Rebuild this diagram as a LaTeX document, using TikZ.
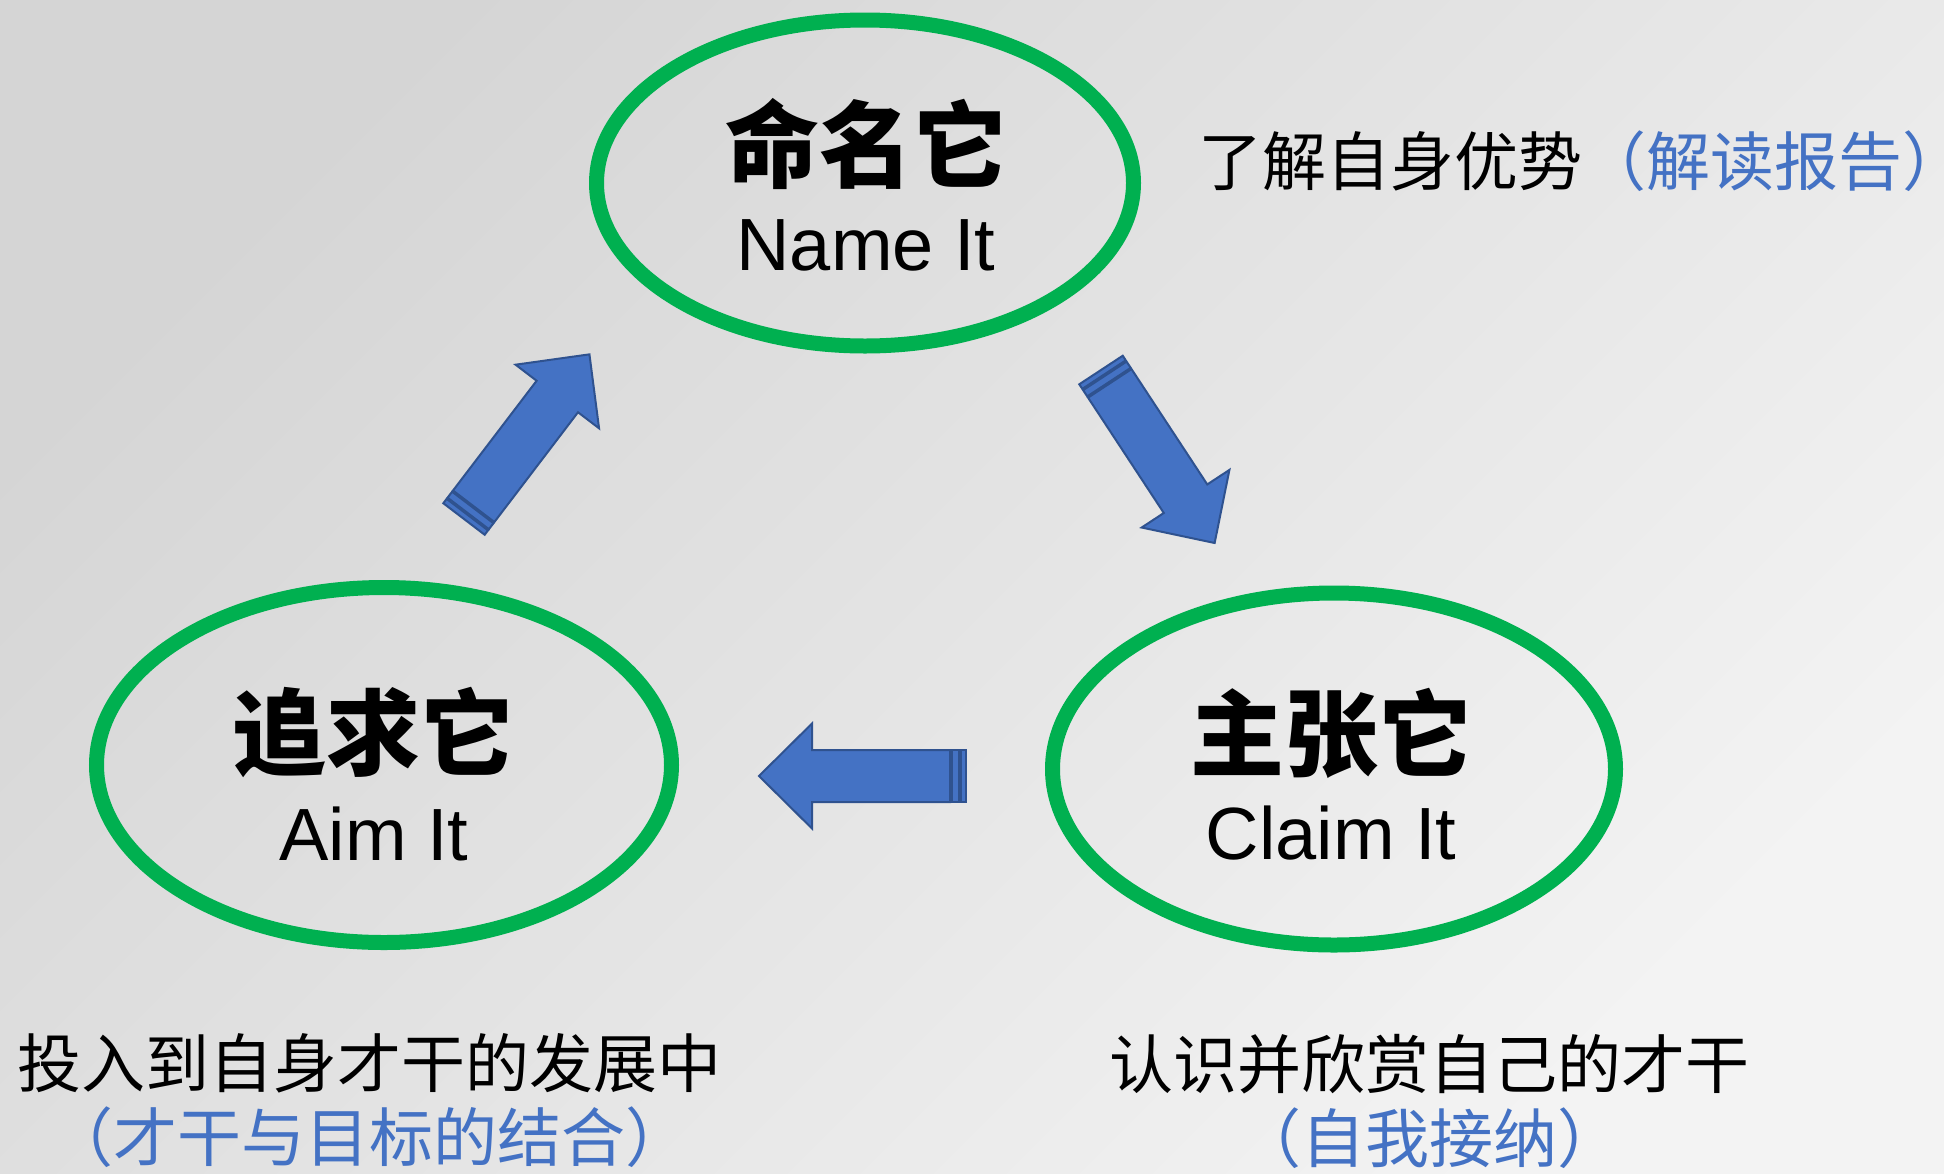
\documentclass[tikz,border=0pt]{standalone}
\usepackage{fontspec}
\setmainfont{Liberation Sans}
\newfontfamily\cjkfont{Noto Sans CJK SC}
\newfontfamily\cjkheavy{Noto Sans CJK SC Black}
\usetikzlibrary{shapes.geometric}
\definecolor{ringgreen}{RGB}{0,176,80}
\definecolor{noteblue}{HTML}{4472C4}
\definecolor{arrowedge}{HTML}{2F528F}
\definecolor{bgdark}{HTML}{D5D5D5}
\definecolor{bglight}{HTML}{F3F3F3}
\tikzset{
  ring/.style={ellipse, draw=ringgreen, line width=7.5pt, inner sep=0pt},
  headtxt/.style={font=\cjkheavy\fontsize{47}{50}\selectfont, inner sep=0pt},
  engtxt/.style={font=\fontsize{37}{40}\selectfont, inner sep=0pt},
  notetxt/.style={font=\cjkfont\fontsize{32}{37}\selectfont, inner sep=0pt, align=center},
  striparrow/.pic={
    \filldraw[fill=noteblue, draw=arrowedge, line width=1pt, line join=miter]
      (16,-26) -- (154,-26) -- (154,-52.5) -- (207,0) -- (154,52.5) -- (154,26) -- (16,26) -- cycle;
    \filldraw[fill=noteblue, draw=arrowedge, line width=1pt] (7,-26) rectangle (14.5,26);
    \filldraw[fill=noteblue, draw=arrowedge, line width=1pt] (0,-26) rectangle (5.5,26);
  }
}
\begin{document}
\begin{tikzpicture}[x=0.5pt, y=-0.5pt]
  \useasboundingbox (0,0) rectangle (1944,1173);
  \shade[top color=bgdark, bottom color=bglight, shading angle=45] (0,0) rectangle (1944,1173);

  \node[ring, minimum width=268.5pt, minimum height=163pt] (nameRing) at (865,183) {};
  \node[ring, minimum width=287.5pt, minimum height=177.5pt] (aimRing) at (384,765) {};
  \node[ring, minimum width=281.5pt, minimum height=176pt] (claimRing) at (1334,769) {};

  \node[headtxt] (nameCn) at (866,144) {命名它};
  \node[engtxt] (nameEn) at (866,245) {Name It};
  \node[headtxt] (aimCn) at (373,732) {追求它};
  \node[engtxt] (aimEn) at (374,834) {Aim It};
  \node[headtxt] (claimCn) at (1331,733) {主张它};
  \node[engtxt] (claimEn) at (1331,833) {Claim It};

  \node[notetxt, anchor=west] (nameNote) at (1198,161) {了解自身优势\textcolor{noteblue}{（解读报告）}\kern-0.5em};
  \node[notetxt] (aimNote) at (370,1101) {投入到自身才干的发展中\\\textcolor{noteblue}{（才干与目标的结合）}};
  \node[notetxt] (claimNote) at (1429,1101) {认识并欣赏自己的才干\\\textcolor{noteblue}{（自我接纳）}};

  \pic[rotate=52.7] at (464,519) {striparrow};
  \pic[rotate=-56.7] at (1101,370) {striparrow};
  \pic[rotate=180] at (966,776) {striparrow};
\end{tikzpicture}
\end{document}
